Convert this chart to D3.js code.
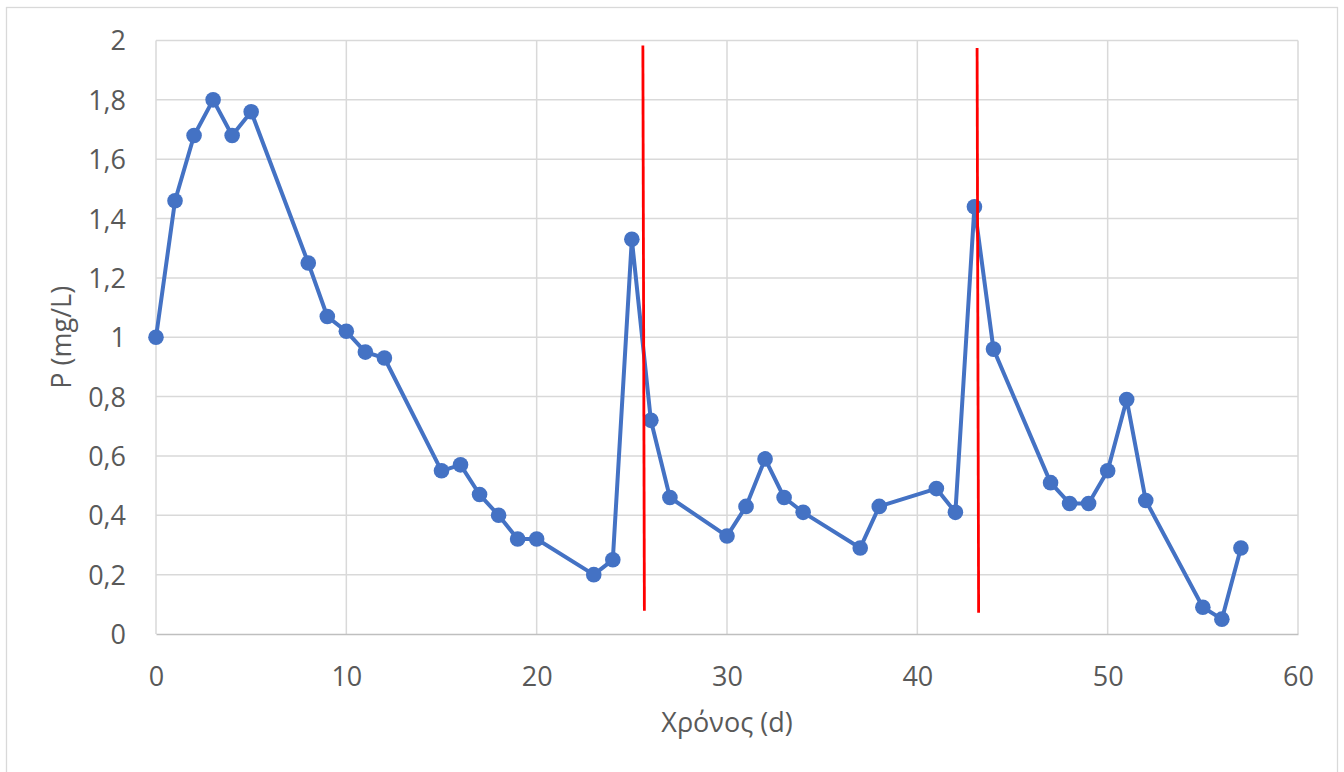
<!DOCTYPE html>
<html lang="el">
<head>
<meta charset="utf-8">
<script src="https://cdn.jsdelivr.net/npm/d3@7/dist/d3.min.js"></script>
<style>
  html, body { margin: 0; padding: 0; background: #fff; }
  svg { display: block; }
  text { font-family: "Open Sans", "Noto Sans", sans-serif; fill: #595959; }
</style>
</head>
<body>
<svg id="chart" width="1344" height="772"></svg>
<script>
// Phosphorus concentration over time (days)
const days = [0, 1, 2, 3, 4, 5, 8, 9, 10, 11, 12, 15, 16, 17, 18, 19, 20, 23, 24, 25, 26, 27,
              30, 31, 32, 33, 34, 37, 38, 41, 42, 43, 44, 47, 48, 49, 50, 51, 52, 55, 56, 57];
const phosphorus = [1.00, 1.46, 1.68, 1.80, 1.68, 1.76, 1.25, 1.07, 1.02, 0.95, 0.93, 0.55, 0.57, 0.47,
                    0.40, 0.32, 0.32, 0.20, 0.25, 1.33, 0.72, 0.46, 0.33, 0.43, 0.59, 0.46, 0.41, 0.29,
                    0.43, 0.49, 0.41, 1.44, 0.96, 0.51, 0.44, 0.44, 0.55, 0.79, 0.45, 0.09, 0.05, 0.29];

// Event markers (red vertical lines), endpoints in data units
const eventTopDay = [25.58, 43.14];
const eventBottomDay = [25.66, 43.22];
const eventTopP = [1.983, 1.975];
const eventBottomP = [0.078, 0.072];

const xTicks = [0, 10, 20, 30, 40, 50, 60];
const yTicks = [0, 0.2, 0.4, 0.6, 0.8, 1, 1.2, 1.4, 1.6, 1.8, 2];
const xTitle = "Χρόνος (d)";
const yTitle = "P (mg/L)";

const svg = d3.select("#chart");
const W = 1344, H = 772;
const margin = { left: 156, right: 46, top: 40.5, bottom: 138 };

const x = d3.scaleLinear().domain([0, 60]).range([margin.left, W - margin.right]);
const y = d3.scaleLinear().domain([0, 2]).range([H - margin.bottom, margin.top]);

const locale = d3.formatLocale({ decimal: ",", thousands: ".", grouping: [3], currency: ["", "€"] });
const fmt = locale.format("~g");

// Chart frame
svg.append("rect")
  .attr("x", 6.5).attr("y", 7.5)
  .attr("width", W - 13).attr("height", H + 20)
  .attr("fill", "#fff").attr("stroke", "#D9D9D9").attr("stroke-width", 1.3);

// Gridlines
const grid = svg.append("g");
grid.selectAll(".hg").data(yTicks.filter(d => d !== 0)).join("line")
  .attr("x1", x(0)).attr("x2", x(60))
  .attr("y1", d => y(d)).attr("y2", d => y(d))
  .attr("stroke", "#D9D9D9").attr("stroke-width", 1.5);
grid.selectAll(".vg").data(xTicks).join("line")
  .attr("x1", d => x(d)).attr("x2", d => x(d))
  .attr("y1", y(0)).attr("y2", y(2))
  .attr("stroke", "#D9D9D9").attr("stroke-width", 1.5);

// Axes
const xAxis = d3.axisBottom(x).tickValues(xTicks).tickSize(0).tickPadding(0).tickFormat(fmt);
const gx = svg.append("g").attr("transform", `translate(0,${y(0)})`).call(xAxis);
gx.select(".domain").attr("stroke", "#BFBFBF").attr("stroke-width", 1.5);
gx.selectAll("text").attr("font-size", 27).attr("fill", "#595959")
  .attr("dy", null).attr("y", 52);

const yAxis = d3.axisLeft(y).tickValues(yTicks).tickSize(0).tickPadding(0).tickFormat(fmt);
const gy = svg.append("g").attr("transform", `translate(${x(0) - 30},0)`).call(yAxis);
gy.select(".domain").remove();
gy.selectAll("text").attr("font-size", 27).attr("fill", "#595959").attr("dy", "0.35em");

// Axis titles
svg.append("text")
  .attr("x", (x(0) + x(60)) / 2).attr("y", 732)
  .attr("text-anchor", "middle").attr("font-size", 27)
  .text(xTitle);
svg.append("text")
  .attr("transform", `translate(71,${(y(0) + y(2)) / 2}) rotate(-90)`)
  .attr("text-anchor", "middle").attr("font-size", 27)
  .text(yTitle);

// Series
const pts = days.map((d, i) => [d, phosphorus[i]]);
const line = d3.line().x(d => x(d[0])).y(d => y(d[1]));
svg.append("path").datum(pts)
  .attr("d", line).attr("fill", "none")
  .attr("stroke", "#4472C4").attr("stroke-width", 4).attr("stroke-linejoin", "round");
svg.append("g").selectAll("circle").data(pts).join("circle")
  .attr("cx", d => x(d[0])).attr("cy", d => y(d[1])).attr("r", 7.8)
  .attr("fill", "#4472C4");

// Event lines
svg.append("g").selectAll("line").data(eventTopDay).join("line")
  .attr("x1", (d, i) => x(d)).attr("y1", (d, i) => y(eventTopP[i]))
  .attr("x2", (d, i) => x(eventBottomDay[i])).attr("y2", (d, i) => y(eventBottomP[i]))
  .attr("stroke", "#FF0000").attr("stroke-width", 2.8);
</script>
</body>
</html>
